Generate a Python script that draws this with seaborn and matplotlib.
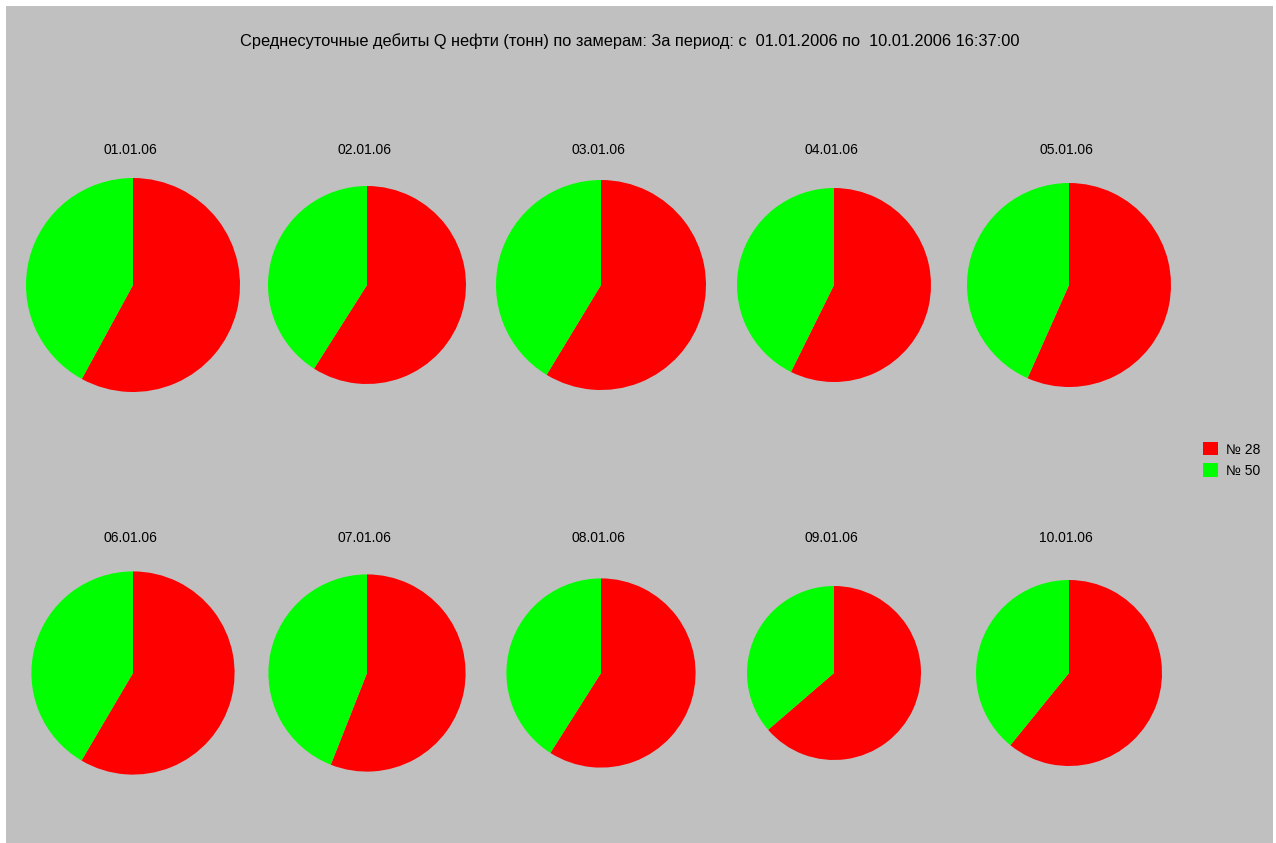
import matplotlib
matplotlib.use("Agg")
import matplotlib.pyplot as plt
import seaborn as sns
from matplotlib.patches import Rectangle, Patch

# data: daily oil production per well (tonnes)
dates = ["01.01.06", "02.01.06", "03.01.06", "04.01.06", "05.01.06",
         "06.01.06", "07.01.06", "08.01.06", "09.01.06", "10.01.06"]
well_labels = ["№ 28", "№ 50"]
well28 = [31.0, 29.2, 30.8, 27.8, 28.9, 29.7, 27.6, 27.9, 27.7, 28.3]
well50 = [22.5, 20.3, 21.7, 20.7, 22.1, 21.1, 21.7, 19.4, 15.8, 18.2]
colors = ["#FF0000", "#00FF00"]
title = "Среднесуточные дебиты Q нефти (тонн) по замерам: За период: с  01.01.2006 по  10.01.2006 16:37:00"

sns.set_style("white")
plt.rcParams["font.family"] = ["Liberation Sans", "DejaVu Sans"]

W, H = 1276, 843
fig = plt.figure(figsize=(W / 100, H / 100), dpi=100, facecolor="white")
fig.patches.append(Rectangle((6 / W, 0), 1267 / W, 837 / H, transform=fig.transFigure,
                             facecolor="#C0C0C0", edgecolor="none", zorder=-10))
ax = fig.add_axes([0, 0, 1, 1])
ax.set_facecolor("none")
ax.set_zorder(5)

# layout in pixel units (y measured from bottom)
col_x = [133, 367, 601, 834, 1069]
row_y = [H - 285, H - 673]
max_r = 107
max_total = max(a + b for a, b in zip(well28, well50))

for i, d in enumerate(dates):
    cx = col_x[i % 5]
    cy = row_y[i // 5]
    total = well28[i] + well50[i]
    r = max_r * total / max_total
    ax.pie([well28[i], well50[i]], colors=colors, startangle=90, counterclock=False,
           center=(cx, cy), radius=r, wedgeprops=dict(linewidth=0))
    ty = 150 if i < 5 else 538
    ax.text(cx - 3, H - ty, d, ha="center", va="center", fontsize=10, color="black")

ax.set_xlim(0, W)
ax.set_ylim(0, H)
ax.set_aspect("equal")
ax.axis("off")

ax.text(630, H - 41, title, ha="center", va="center", fontsize=11.8, color="black")

handles = [Patch(facecolor=c, edgecolor="none") for c in colors]
ax.legend(handles, well_labels, loc="center left", bbox_to_anchor=(1190 / W, 1 - 460 / H),
          frameon=False, fontsize=10, labelcolor="black", handlelength=1.1, handleheight=1.1,
          handletextpad=0.6, labelspacing=0.5)

fig.savefig("out.png", dpi=100, facecolor="white")
